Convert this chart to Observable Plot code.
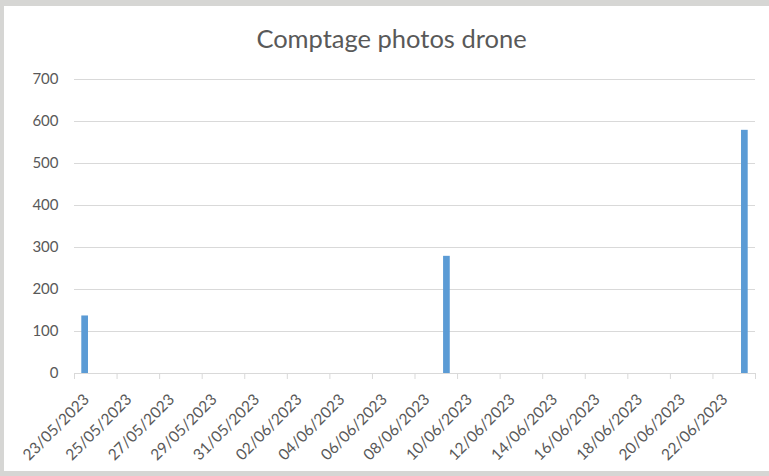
<!DOCTYPE html>
<html>
<head>
<meta charset="utf-8">
<script src="https://cdn.jsdelivr.net/npm/d3@7"></script>
<script src="https://cdn.jsdelivr.net/npm/@observablehq/plot@0.6"></script>
<style>
  html, body { margin: 0; padding: 0; }
  body { width: 769px; height: 476px; background: #d6d6d4; position: relative; overflow: hidden; font-family: Lato, "Open Sans", sans-serif; }
  #panel { position: absolute; left: 4px; top: 6px; width: 765px; height: 465px; background: #ffffff; }
  #title { height: 55px; box-sizing: border-box; padding-top: 17px; padding-left: 10px; text-align: center; font-size: 25.5px; color: #595959; line-height: 30px; white-space: nowrap; }
  #chart svg { display: block; }
</style>
</head>
<body>
<div id="panel">
  <div id="title"></div>
  <div id="chart"></div>
</div>
<script>
const title = "Comptage photos drone";
const photoDates = ["2023-05-23", "2023-06-09", "2023-06-23"];
const photoCounts = [137, 279, 579];
const tickLabels = ["23/05/2023","25/05/2023","27/05/2023","29/05/2023","31/05/2023","02/06/2023","04/06/2023","06/06/2023","08/06/2023","10/06/2023","12/06/2023","14/06/2023","16/06/2023","18/06/2023","20/06/2023","22/06/2023"];
const yTicks = [0, 100, 200, 300, 400, 500, 600, 700];
const domainStart = "2023-05-23";
const domainEnd = "2023-06-24";

document.getElementById("title").textContent = title;

const parseLabel = s => { const [d, m, y] = s.split("/"); return new Date(Date.UTC(+y, +m - 1, +d)); };
const DAY = 864e5;
const data = photoDates.map((d, i) => ({ date: new Date(d + "T00:00:00Z"), count: photoCounts[i] }));
const labels = tickLabels.map(s => ({ pos: new Date(+parseLabel(s) + DAY / 2), text: s }));
const boundaries = tickLabels.map(parseLabel).concat([new Date(domainEnd + "T00:00:00Z")]);

const chart = Plot.plot({
  width: 765,
  height: 410,
  marginLeft: 70,
  marginRight: 14,
  marginTop: 18,
  marginBottom: 98,
  style: { fontFamily: "Lato, 'Open Sans', sans-serif", fontSize: "15px", color: "#595959", background: "transparent", overflow: "visible" },
  x: { type: "utc", domain: [new Date(domainStart + "T00:00:00Z"), new Date(domainEnd + "T00:00:00Z")] },
  y: { domain: [0, 700] },
  marks: [
    Plot.gridY(yTicks, { stroke: "#d9d9d9", strokeOpacity: 1, strokeWidth: 1 }),
    Plot.rectY(data, { x1: "date", x2: d => new Date(+d.date + DAY), y: "count", insetLeft: 7.3, insetRight: 7.3, fill: "#5b9bd5" }),
    Plot.ruleY([0], { stroke: "#d9d9d9", strokeWidth: 1 }),
    Plot.axisY(yTicks, { tickSize: 0, tickPadding: 16, fill: "#595959", fontSize: 15, label: null }),
    Plot.axisX(boundaries, { tickSize: 6, stroke: "#d9d9d9", text: null, label: null }),
    Plot.text(labels, { x: "pos", text: "text", frameAnchor: "bottom", dx: 5, dy: 27, rotate: -45, textAnchor: "end", lineAnchor: "bottom", fill: "#595959", fontSize: 15.5 })
  ]
});
document.getElementById("chart").appendChild(chart);
</script>
</body>
</html>
